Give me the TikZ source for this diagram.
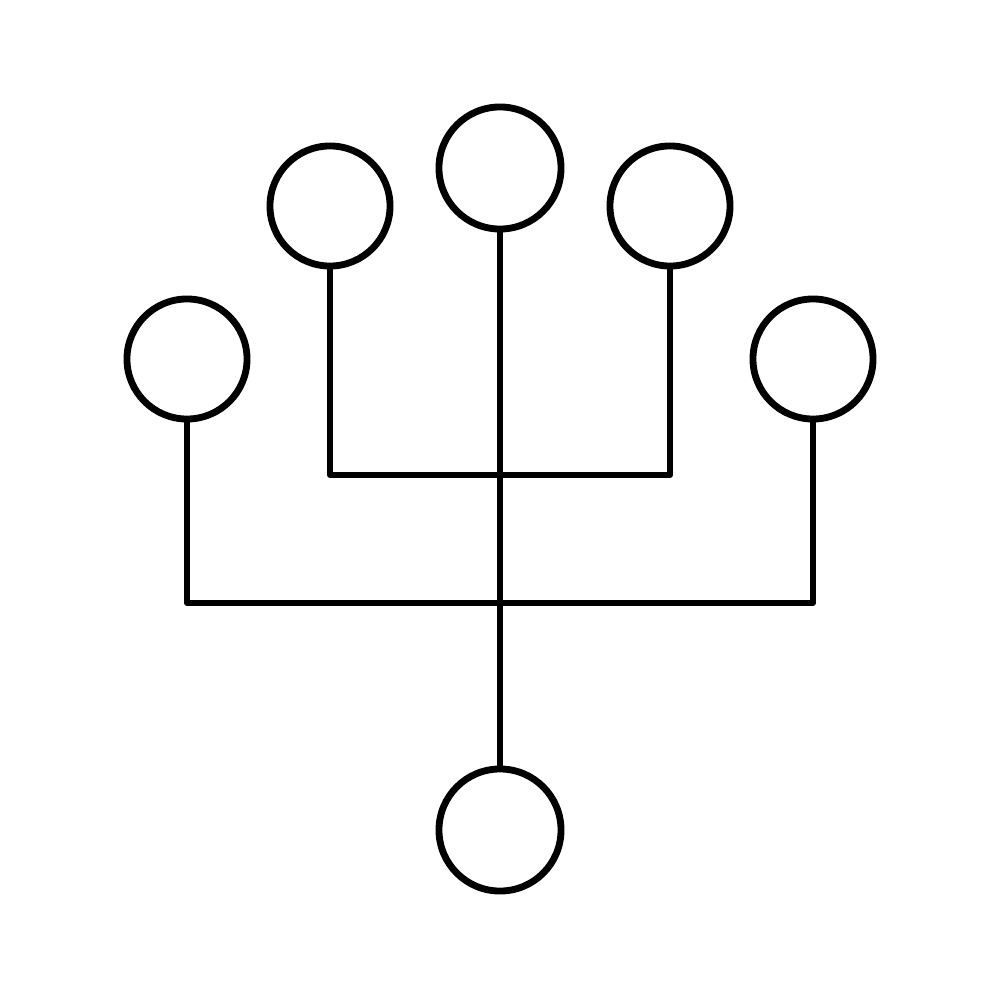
\documentclass[tikz,border=0pt]{standalone}
\begin{document}
\begin{tikzpicture}[x=0.01cm,y=-0.01cm,
  dot/.style={circle,draw=black,line width=1.95pt,minimum size=1.2cm,inner sep=0pt,fill=white},
  bigdot/.style={dot,minimum size=1.22cm},
  wire/.style={draw=black,line width=1.75pt,line join=round,line cap=round}]
\useasboundingbox[fill=white] (0,0) rectangle (1000,1000);
\node[bigdot] (top) at (500,168) {};
\node[dot] (ul) at (330,206) {};
\node[dot] (ur) at (670,206) {};
\node[dot] (ll) at (187,359) {};
\node[dot] (rr) at (813,359) {};
\node[bigdot] (bot) at (500,830) {};
\coordinate (jin) at (500,475);
\coordinate (jout) at (500,603);
\draw[wire] (ul.south) -- (ul.south |- jin) -- (ur.south |- jin) -- (ur.south);
\draw[wire] (ll.south) -- (ll.south |- jout) -- (rr.south |- jout) -- (rr.south);
\draw[wire] (top.south) -- (bot.north);
\end{tikzpicture}
\end{document}
